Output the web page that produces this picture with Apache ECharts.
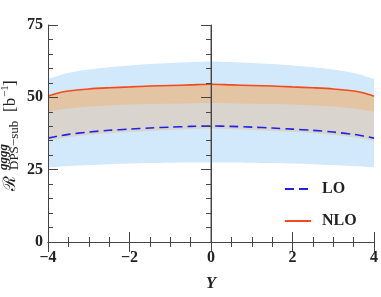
<!DOCTYPE html>
<html>
<head>
<meta charset="utf-8">
<script src="https://cdn.jsdelivr.net/npm/echarts@6/dist/echarts.min.js"></script>
<style>html,body{margin:0;padding:0;background:#fff}#c{width:381px;height:297px}</style>
</head>
<body>
<div id="c"></div>
<script>
var xs = [-4,-3.75,-3.5,-3,-2.5,-2,-1.5,-1,-0.5,0,0.5,1,1.5,2,2.5,3,3.5,3.75,4];
var nlo = [50.4,51.5,52.2,52.9,53.3,53.6,53.9,54.1,54.3,54.5,54.3,54.1,53.9,53.6,53.3,52.9,52.2,51.5,50.4];
var lo = [35.9,36.6,37.2,38.0,38.6,39.0,39.4,39.7,39.95,40.1,39.95,39.7,39.4,39.0,38.6,38.0,37.2,36.6,35.9];
var bandTop = [56.4,57.5,58.4,59.6,60.4,61.0,61.5,61.9,62.2,62.4,62.2,61.9,61.5,61.0,60.4,59.6,58.4,57.5,56.4];
var nloLow = [45.0,45.6,46.1,46.8,47.2,47.5,47.7,47.8,47.9,48.0,47.9,47.8,47.7,47.5,47.2,46.8,46.1,45.6,45.0];
var loLow = [34.9,35.6,36.2,37.0,37.6,38.0,38.4,38.7,38.95,39.1,38.95,38.7,38.4,38.0,37.6,37.0,36.2,35.6,34.9];
var bandLow = [25.8,26.05,26.3,26.6,26.9,27.1,27.3,27.4,27.5,27.5,27.5,27.4,27.3,27.1,26.9,26.6,26.3,26.05,25.8];
var xTicks = [-4,-2,0,2,4];
var yTicks = [0,25,50,75];
var zeroLine = [[0,0],[0,75]];

function pairs(arr){ return xs.map(function(x,i){ return [x, arr[i]]; }); }

var serifBold = {fontFamily:'Liberation Serif', fontWeight:'bold', fontSize:16, color:'#222'};
var axColor = '#444';

function area(name, arr, color){
  return {name:name, type:'line', data:pairs(arr), smooth:0.3, symbol:'none',
    lineStyle:{width:0}, areaStyle:{color:color, opacity:1, origin:'start'}, silent:true, z:1};
}

var chart = echarts.init(document.getElementById('c'), null, {renderer:'canvas'});
chart.setOption({
  animation:false,
  backgroundColor:'#fff',
  grid:{left:48, right:7, top:25, bottom:54},
  xAxis:[{
    type:'value', min:-4, max:4, interval:2, z:10,
    axisLine:{show:true, onZero:false, lineStyle:{color:axColor, width:1}},
    axisTick:{show:true, inside:true, length:10, lineStyle:{color:axColor}},
    minorTick:{show:true, splitNumber:4, length:5, lineStyle:{color:axColor}},
    splitLine:{show:false},
    axisLabel:Object.assign({margin:8, formatter:function(v){ return xTicks.indexOf(v)<0?'':(v<0?'\u2212'+Math.abs(v):String(v)); }}, serifBold),
    name:'Y', nameLocation:'middle', nameGap:33,
    nameTextStyle:{fontFamily:'Liberation Serif', fontWeight:'bold', fontStyle:'italic', fontSize:17, color:'#222'}
  },{
    type:'value', min:-4, max:4, interval:2, position:'top', z:10,
    axisLine:{show:true, lineStyle:{color:axColor, width:1}},
    axisTick:{show:true, inside:true, length:10, lineStyle:{color:axColor}},
    minorTick:{show:true, splitNumber:4, length:5, lineStyle:{color:axColor}},
    splitLine:{show:false}, axisLabel:{show:false}
  }],
  yAxis:[{
    type:'value', min:0, max:75, interval:25, z:10,
    axisLine:{show:true, onZero:false, lineStyle:{color:axColor, width:1}},
    axisTick:{show:true, inside:true, length:10, lineStyle:{color:axColor}},
    minorTick:{show:true, splitNumber:5, length:5, lineStyle:{color:axColor}},
    splitLine:{show:false},
    axisLabel:Object.assign({margin:5, formatter:function(v){ return yTicks.indexOf(v)<0?'':String(v); }}, serifBold)
  },{
    type:'value', min:0, max:75, interval:25, position:'right', z:10,
    axisLine:{show:true, lineStyle:{color:axColor, width:1}},
    axisTick:{show:true, inside:true, length:10, lineStyle:{color:axColor}},
    minorTick:{show:true, splitNumber:5, length:5, lineStyle:{color:axColor}},
    splitLine:{show:false}, axisLabel:{show:false}
  }],
  legend:{
    data:['LO','NLO'], orient:'vertical', left:279, top:176,
    itemWidth:26, itemHeight:16, itemGap:16,
    itemStyle:{opacity:0},
    textStyle:{fontFamily:'Liberation Serif', fontWeight:'bold', fontSize:16, color:'#222', padding:[0,0,0,6]}
  },
  series:[
    area('bandTop', bandTop, '#d2e9fb'),
    area('nloBand', nlo, '#e3c5a4'),
    area('gray', nloLow, '#d9d5ce'),
    area('loBand', loLow, '#d2e9fb'),
    area('white', bandLow, '#ffffff'),
    {name:'zero', type:'line', data:zeroLine, symbol:'none', silent:true, z:3,
      lineStyle:{color:'#8a8a8a', width:1.5}},
    {name:'LO', type:'line', data:pairs(lo), smooth:0.3, symbol:'none', z:4,
      itemStyle:{color:'#1f22e6'},
      lineStyle:{color:'#1f22e6', width:1.6, type:[9,5]}},
    {name:'NLO', type:'line', data:pairs(nlo), smooth:0.3, symbol:'none', z:4,
      itemStyle:{color:'#f24a1c'},
      lineStyle:{color:'#f24a1c', width:1.6}}
  ],
  graphic:[{
    type:'group', x:11, y:134, rotation:Math.PI/2,
    children:[
      {type:'text', x:-57, y:0, style:{text:'\u211B', fontFamily:'DejaVu Serif', fontSize:17, fill:'#222', verticalAlign:'middle', align:'left'}},
      {type:'text', x:-36, y:-7, style:{text:'gggg', fontFamily:'Liberation Serif', fontStyle:'italic', fontWeight:'bold', fontSize:13, fill:'#222', verticalAlign:'middle', align:'left'}},
      {type:'text', x:-36, y:4, style:{text:'DPS\u2212sub', fontFamily:'Liberation Serif', fontSize:13, fill:'#222', verticalAlign:'middle', align:'left'}},
      {type:'text', x:22, y:0, style:{text:'[b', fontFamily:'Liberation Serif', fontSize:17, fill:'#222', verticalAlign:'middle', align:'left'}},
      {type:'text', x:37, y:-6, style:{text:'\u22121', fontFamily:'Liberation Serif', fontSize:11, fill:'#222', verticalAlign:'middle', align:'left'}},
      {type:'text', x:48, y:0, style:{text:']', fontFamily:'Liberation Serif', fontSize:17, fill:'#222', verticalAlign:'middle', align:'left'}}
    ]
  }]
});
</script>
</body>
</html>
